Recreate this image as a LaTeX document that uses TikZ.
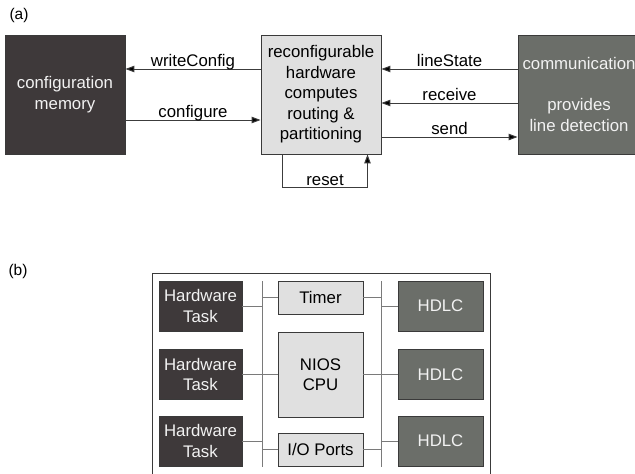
\documentclass[tikz,border=0pt]{standalone}
\usepackage{fontspec}
\setmainfont{Liberation Sans}
\usetikzlibrary{arrows.meta,calc}

\definecolor{darkbox}{HTML}{3E393A}
\definecolor{midbox}{HTML}{6B6E69}
\definecolor{lightbox}{HTML}{E0E0E0}
\definecolor{edge}{HTML}{3A3A3A}
\definecolor{wire}{HTML}{3C3C3C}
\definecolor{bus}{HTML}{7A7A7A}
\definecolor{paletext}{HTML}{F2F2F2}

\tikzset{
  txt/.style={font=\fontsize{16.8}{20.5}\selectfont},
  blk/.style={txt, draw=edge, line width=0.9pt, inner sep=0pt, align=center},
  darkblk/.style={blk, fill=darkbox, text=paletext},
  midblk/.style={blk, fill=midbox, text=paletext},
  lightblk/.style={blk, fill=lightbox, text=black},
  arr/.style={draw=wire, line width=1pt, -{Triangle[length=9pt,width=6.5pt,fill=black]}},
  lbl/.style={txt, anchor=base, yshift=2.5pt, inner sep=0pt},
  busline/.style={draw=bus, line width=1pt},
  tag/.style={font=\fontsize{15.5}{18}\selectfont, inner sep=0pt}
}

\begin{document}
\begin{tikzpicture}[x=1pt,y=-1pt]
\useasboundingbox (0,0) rectangle (635,474);
\clip (0,0) rectangle (635,474);

% ---------- (a) ----------
\node[tag] (taga) at (19,15) {(a)};

\node[darkblk, minimum width=120pt, minimum height=119pt] (mem) at (65,94.5)
  {configuration\\memory};
\node[lightblk, minimum width=120pt, minimum height=119pt] (proc) at (321,94.5)
  {reconfigurable\\hardware\\computes\\routing \&\\partitioning};
\node[midblk, minimum width=122pt, minimum height=119pt] (comm) at (579,94.5)
  {communication\\[20.5pt]provides\\line detection};

\draw[arr] ([yshift=25.5pt]proc.west) -- node[lbl,midway] {writeConfig} ([yshift=25.5pt]mem.east);
\draw[arr] ([yshift=-25.5pt]mem.east) -- node[lbl,midway] {configure} ([yshift=-25.5pt]proc.west);
\draw[arr] ([yshift=25.5pt]comm.west) -- node[lbl,midway] {lineState} ([yshift=25.5pt]proc.east);
\draw[arr] ([yshift=-8.5pt]comm.west) -- node[lbl,midway] {receive} ([yshift=-8.5pt]proc.east);
\draw[arr] ([yshift=-42.5pt]proc.east) -- node[lbl,midway] {send} ([yshift=-42.5pt]comm.west);

% feedback loop below the processing block
\coordinate (rl) at ([xshift=-38.5pt,yshift=-33.5pt]proc.south);
\coordinate (rr) at ([xshift=46.5pt,yshift=-33.5pt]proc.south);
\draw[arr] ([xshift=-38.5pt]proc.south) -- (rl) -- (rr) -- ([xshift=46.5pt]proc.south);
\node[lbl] (resetlbl) at ($(rl)!0.5!(rr)$) {reset};

% ---------- (b) ----------
\node[tag] (tagb) at (18,271.5) {(b)};

% enclosing frame (open at the bottom edge)
\draw[draw=edge, line width=0.9pt] (152,480) -- (152,273) -- (490,273) -- (490,480);

\node[darkblk, minimum width=83pt, minimum height=50pt] (hw1) at (200.5,306) {Hardware\\Task};
\node[darkblk, minimum width=83pt, minimum height=50pt] (hw2) at (200.5,374.5) {Hardware\\Task};
\node[darkblk, minimum width=83pt, minimum height=50pt] (hw3) at (200.5,441) {Hardware\\Task};

\node[midblk, minimum width=85pt, minimum height=50pt] (hd1) at (440.5,306) {HDLC};
\node[midblk, minimum width=85pt, minimum height=50pt] (hd2) at (440.5,374.5) {HDLC};
\node[midblk, minimum width=85pt, minimum height=50pt] (hd3) at (440.5,441) {HDLC};

\node[lightblk, minimum width=85pt, minimum height=33pt] (timer) at (320.5,297.5) {Timer};
\node[lightblk, minimum width=85pt, minimum height=85pt] (cpu) at (320.5,374.5) {NIOS\\CPU};
\node[lightblk, minimum width=85pt, minimum height=33pt] (io) at (320.5,449.5) {I/O Ports};

% the two buses
\coordinate (lbtop) at (262,281);
\coordinate (lbbot) at (262,467);
\coordinate (rbtop) at (381,281);
\coordinate (rbbot) at (381,467);
\draw[busline] (lbtop) -- (lbbot);
\draw[busline] (rbtop) -- (rbbot);

% taps onto the left bus
\draw[busline] (hw1.east) -- (hw1.east -| lbtop);
\draw[busline] (hw2.east) -- (hw2.east -| lbtop);
\draw[busline] (hw3.east) -- (hw3.east -| lbtop);
\draw[busline] (timer.west -| lbtop) -- (timer.west);
\draw[busline] (cpu.west -| lbtop) -- (cpu.west);
\draw[busline] (io.west -| lbtop) -- (io.west);

% taps onto the right bus
\draw[busline] (timer.east) -- (timer.east -| rbtop);
\draw[busline] (cpu.east) -- (cpu.east -| rbtop);
\draw[busline] (io.east) -- (io.east -| rbtop);
\draw[busline] (hd1.west -| rbtop) -- (hd1.west);
\draw[busline] (hd2.west -| rbtop) -- (hd2.west);
\draw[busline] (hd3.west -| rbtop) -- (hd3.west);
\end{tikzpicture}
\end{document}
